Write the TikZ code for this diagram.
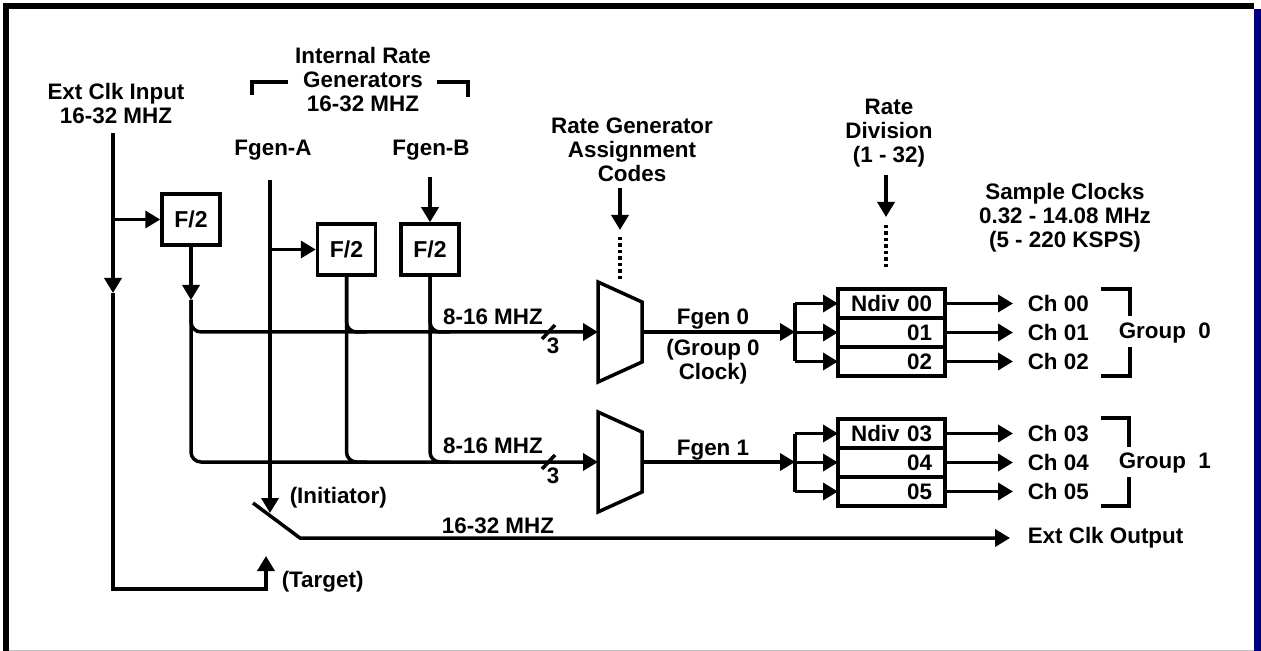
\documentclass[tikz,border=0pt]{standalone}
\usepackage{fontspec}
\setmainfont{Liberation Sans}
\usepackage{tikz}
\usetikzlibrary{arrows.meta, positioning, calc}
\definecolor{navybar}{RGB}{0,0,128}
\tikzset{every picture/.append style={line width=1.75pt}}

\begin{document}
\begin{tikzpicture}[x=0.5pt, y=-0.5pt,
        lbl/.style={font=\fontsize{11.2}{12}\selectfont\bfseries, inner sep=0pt, align=center},
        sig/.style={-{Triangle[length=7.5pt,width=8.5pt]}},
        divbox/.style={draw, minimum width=29pt, minimum height=25.5pt, inner sep=0pt,
            font=\fontsize{11.5}{12}\selectfont\bfseries},
        ndbox/.style={draw, text width=40.5pt, align=right, inner xsep=6.5pt, inner ysep=0pt,
            minimum height=14.5pt, outer sep=0pt, font=\fontsize{11.2}{12}\selectfont\bfseries},
        dotline/.style={dash pattern=on 1.75pt off 1.5pt}]

        % ==========================================
        % FRAME
        % ==========================================
        \useasboundingbox (0,0) rectangle (1261,651);
        \fill[white] (0,0) rectangle (1261,651);
        \fill[black] (3,3) rectangle (1254,9);
        \fill[black] (3,3) rectangle (9,651);
        \fill[navybar] (1254,9) rectangle (1261,651);
        \draw[gray!50, line width=0.5pt] (9,650) -- (1254,650);

        % ==========================================
        % CLOCK SOURCES
        % ==========================================
        % 1. Labels
        \node[lbl] (extlbl) at (116,104) {Ext Clk Input\\16-32 MHZ};
        \node[lbl] (irglbl) at (363,80) {Internal Rate\\Generators\\16-32 MHZ};
        \node[lbl, anchor=base] (fgalbl) at (273,156) {Fgen-A};
        \node[lbl, anchor=base] (fgblbl) at (431,156) {Fgen-B};
        \draw (252,95) -- (252,82) -- (288,82);
        \draw (437,82) -- (468,82) -- (468,97);

        % 2. Divide-by-two blocks
        \node[divbox] (fa) at (191,219.5) {F/2};
        \node[divbox] (fb) at (346.5,249.5) {F/2};
        \node[divbox] (fc) at (430,249.5) {F/2};

        % 3. Source wiring
        \coordinate (extTop) at (113,133);
        \coordinate (extSplit) at (113,219.5);
        \coordinate (extMid) at (113,293);
        \coordinate (extBot) at (113,589);
        \coordinate (tgtTip) at (266,556);
        \coordinate (fgaTop) at (270,180);
        \coordinate (fgaSplit) at (270,249.5);
        \coordinate (iniTip) at (270,513);
        \coordinate (fgbTop) at (430,177);
        \coordinate (faMid) at (191,300);

        \draw[sig] (extTop) -- (extMid);
        \draw[sig] (extMid) -- (extBot) -| (tgtTip);
        \draw[sig] (extSplit) -- (fa.west);
        \draw[sig] (fgaTop) -- (iniTip);
        \draw[sig] (fgaSplit) -- (fb.west);
        \draw[sig] (fgbTop) -- (fc.north);
        \draw[sig] (fa.south) -- (faMid);

        % ==========================================
        % RATE GENERATOR SELECTION
        % ==========================================
        % 4. Multiplexers
        \draw (598,282) -- (642,302) -- (642,362) -- (598,382) -- cycle;
        \draw (598,412) -- (642,432) -- (642,492) -- (598,512) -- cycle;
        \coordinate (mux0in) at (598,332);
        \coordinate (mux0out) at (642,332);
        \coordinate (mux1in) at (598,462);
        \coordinate (mux1out) at (642,462);

        % 5. Buses into the multiplexers
        \draw[sig, rounded corners=5pt] (faMid) -- (faMid |- mux0in) -- (mux0in);
        \draw[sig, rounded corners=5pt] (faMid) -- (faMid |- mux1in) -- (mux1in);
        \foreach \b in {fb,fc} {
            \draw[rounded corners=5pt] (\b.south) -- (\b.south |- mux0in) -- ++(20,0);
            \draw[rounded corners=5pt] (\b.south) -- (\b.south |- mux1in) -- ++(20,0);
        }
        \draw (542,339) -- (555,325);
        \draw (542,469) -- (555,455);
        \node[lbl, anchor=base] (bus0lbl) at (493,325) {8-16 MHZ};
        \node[lbl, anchor=base] (bus1lbl) at (493,453) {8-16 MHZ};
        \node[lbl, anchor=base] (w0lbl) at (553,354) {3};
        \node[lbl, anchor=base] (w1lbl) at (553,483) {3};

        % 6. Assignment codes
        \node[lbl] (rgalbl) at (632,150) {Rate Generator\\Assignment\\Codes};
        \coordinate (rgaTop) at (620,188);
        \coordinate (rgaTip) at (620,230);
        \draw[sig] (rgaTop) -- (rgaTip);
        \draw[dotline] (620,237) -- (620,282);

        \node[lbl, anchor=base] (fg0lbl) at (713,325) {Fgen 0};
        \node[lbl] (g0clk) at (713,362) {(Group 0\\Clock)};
        \node[lbl, anchor=base] (fg1lbl) at (713,455) {Fgen 1};

        % ==========================================
        % RATE DIVISION AND CHANNELS
        % ==========================================
        \node[lbl] (rdlbl) at (889,133) {Rate\\Division\\(1 - 32)};
        \coordinate (rdTop) at (886,175);
        \coordinate (rdTip) at (886,217);
        \draw[sig] (rdTop) -- (rdTip);
        \draw[dotline] (886,225) -- (886,267);
        \node[lbl] (sclbl) at (1065,218) {Sample Clocks\\0.32 - 14.08 MHz\\(5 - 220 KSPS)};

        % 7. Divider boxes
        \node[ndbox] (nd00) at (891.5,303.5) {Ndiv 00};
        \node[ndbox, below=0pt of nd00] (nd01) {01};
        \node[ndbox, below=0pt of nd01] (nd02) {02};
        \node[ndbox] (nd03) at (891.5,433.5) {Ndiv 03};
        \node[ndbox, below=0pt of nd03] (nd04) {04};
        \node[ndbox, below=0pt of nd04] (nd05) {05};

        % 8. Fan-out
        \coordinate (fan0) at (795,332);
        \coordinate (fan1) at (795,462);
        \draw[sig] (mux0out) -- (fan0);
        \draw[sig] (mux1out) -- (fan1);
        \draw (fan0 |- nd00) -- (fan0 |- nd02);
        \draw (fan1 |- nd03) -- (fan1 |- nd05);
        \foreach \n in {00,01,02} \draw[sig] (fan0 |- nd\n) -- (nd\n.west);
        \foreach \n in {03,04,05} \draw[sig] (fan1 |- nd\n) -- (nd\n.west);

        % 9. Channel outputs
        \foreach \n in {00,01,02,03,04,05} {
            \node[lbl, anchor=west] (ch\n) at (1026,0 |- nd\n) {Ch \n};
            \draw[sig, shorten >=6.5pt] (nd\n.east) -- (ch\n.west);
        }
        \draw (1101,289) -- (1130,289) -- (1130,316);
        \draw (1130,347) -- (1130,376) -- (1101,376);
        \draw (1101,418) -- (1129,418) -- (1129,447);
        \draw (1129,477) -- (1129,506) -- (1101,506);
        \node[lbl, anchor=base west] (grp0) at (1117,339) {Group~~0};
        \node[lbl, anchor=base west] (grp1) at (1117,468) {Group~~1};

        % ==========================================
        % EXTERNAL CLOCK SWITCH
        % ==========================================
        \coordinate (swA) at (253,503);
        \coordinate (swB) at (300,538);
        \node[lbl, anchor=base west] (inilbl) at (288,503) {(Initiator)};
        \node[lbl, anchor=base west] (tgtlbl) at (280,587) {(Target)};
        \node[lbl, anchor=base] (outfreq) at (498,533) {16-32 MHZ};
        \node[lbl, anchor=west] (extout) at (1026,538) {Ext Clk Output};
        \draw[sig, shorten >=8pt] (swA) -- (swB) -- (swB -| extout.west);

\end{tikzpicture}
\end{document}
